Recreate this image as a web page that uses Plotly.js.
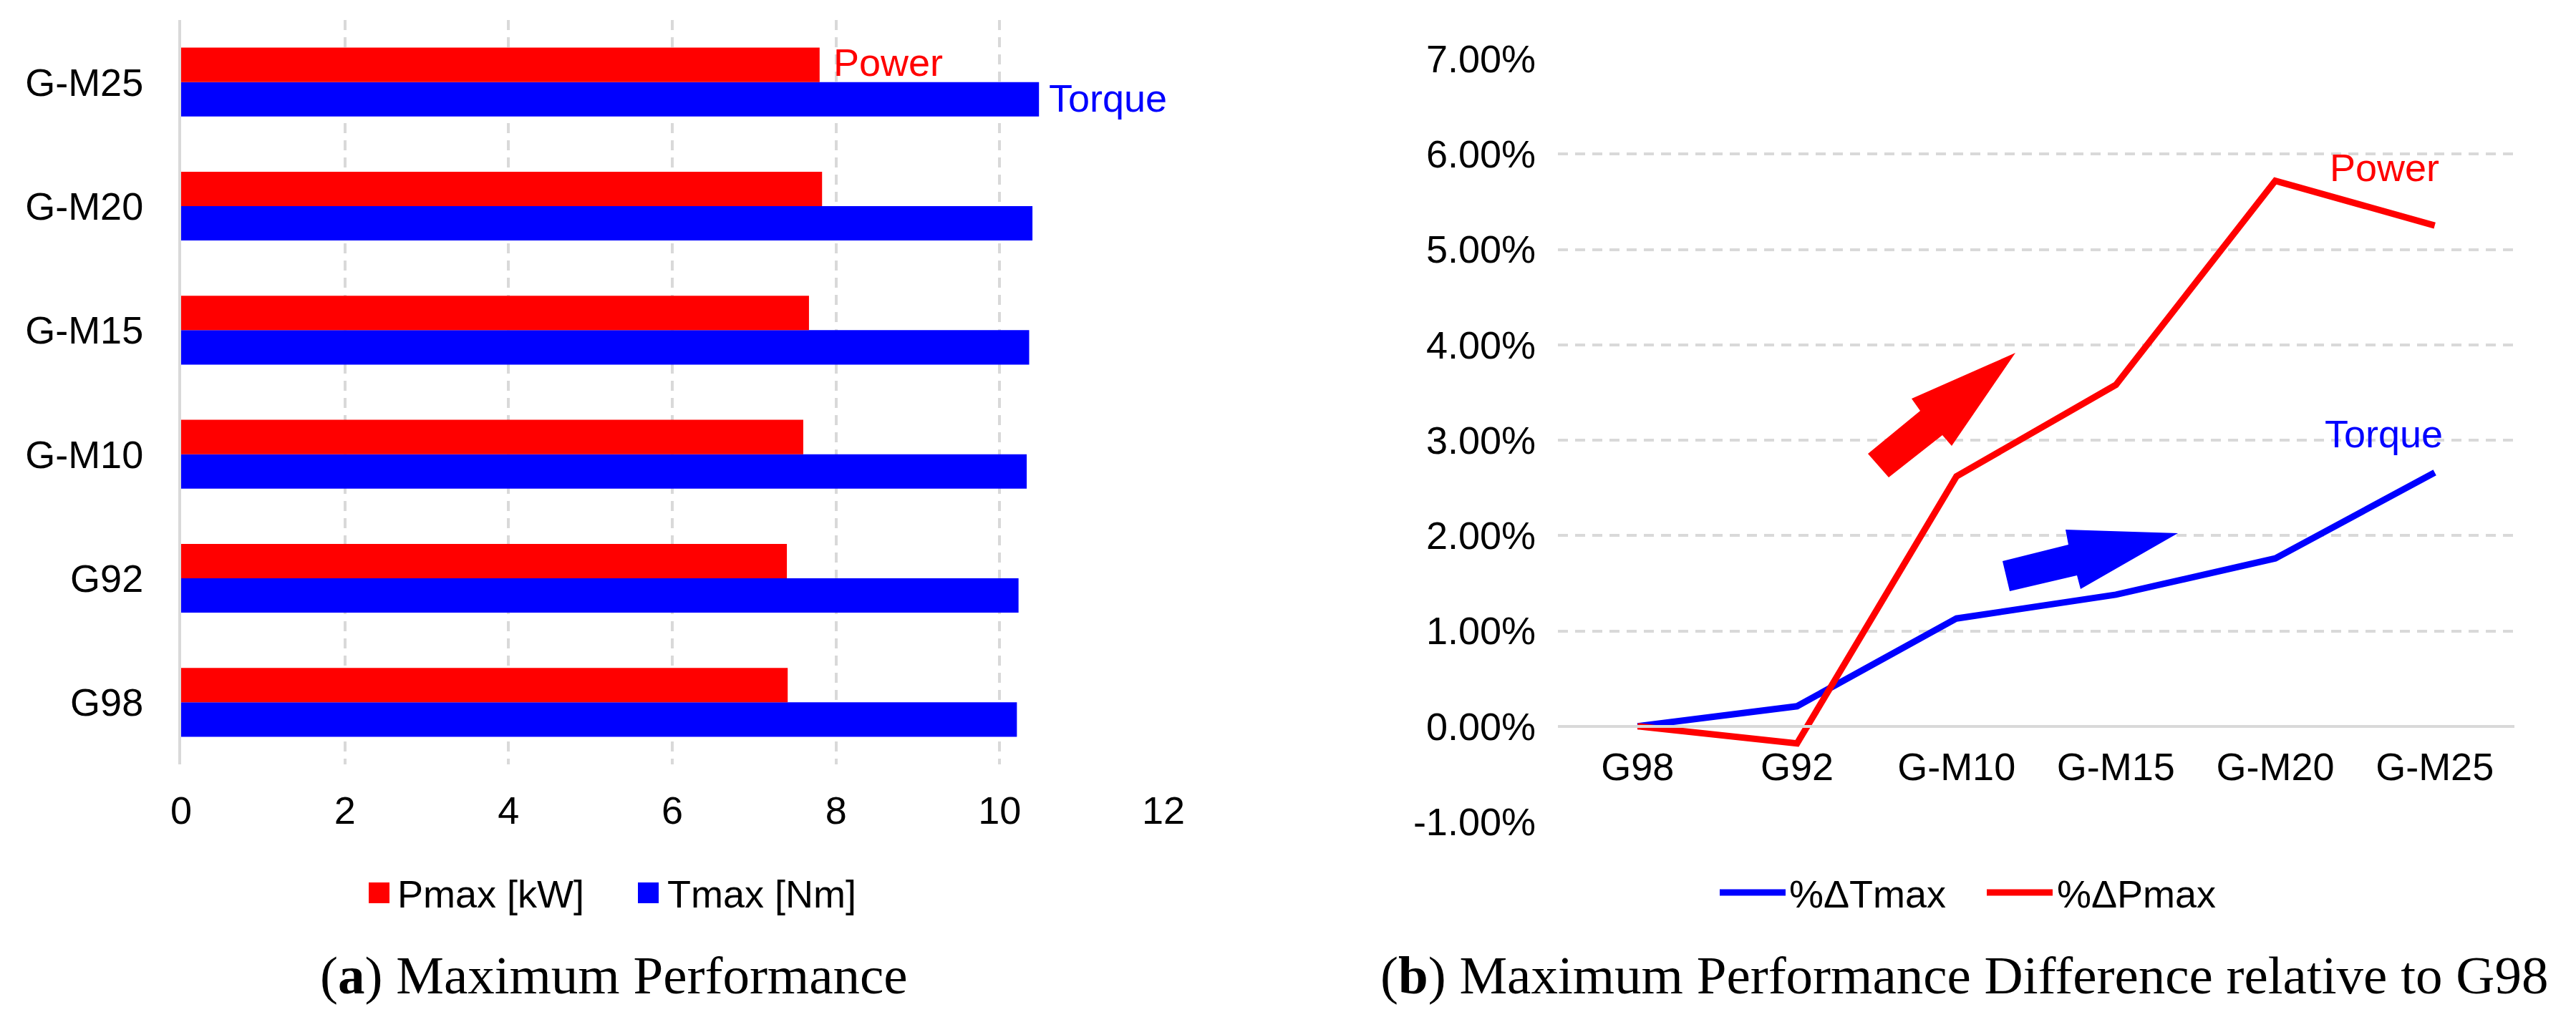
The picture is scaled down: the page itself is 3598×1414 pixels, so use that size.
<!DOCTYPE html>
<html>
<head>
<meta charset="utf-8">
<script src="https://cdn.plot.ly/plotly-3.0.1.min.js"></script>
<style>html,body{margin:0;padding:0;background:#fff;}</style>
</head>
<body>
<div id="myDiv"></div>
<script>
var W = 3598, H = 1414;

// data
var categories = ['G98', 'G92', 'G-M10', 'G-M15', 'G-M20', 'G-M25'];
var pmax = [7.41, 7.40, 7.60, 7.67, 7.83, 7.80];        // kW
var tmax = [10.21, 10.23, 10.33, 10.36, 10.40, 10.48];  // Nm
var dTmax = [0, 0.0021, 0.0113, 0.0138, 0.0176, 0.0266];
var dPmax = [0, -0.0018, 0.0262, 0.0358, 0.0572, 0.0525];

var xTicksA = [0, 2, 4, 6, 8, 10, 12];
var yTicksB = [-0.01, 0, 0.01, 0.02, 0.03, 0.04, 0.05, 0.06, 0.07];
var yTickTextB = yTicksB.map(function (v) {
  return (v < 0 ? '-' : '') + Math.abs(v * 100).toFixed(2) + '%';
});

var sans = 'Arial, "Liberation Sans", sans-serif';
var serif = '"Times New Roman", "Liberation Serif", serif';
var grid = '#d9d9d9';

// pixel -> paper helpers
function px(x) { return x / W; }
function py(y) { return 1 - y / H; }
function poly(pts) {
  return 'M' + pts.map(function (p) { return px(p[0]) + ',' + py(p[1]); }).join('L') + 'Z';
}

var data = [
  {
    type: 'bar', orientation: 'h', name: 'Tmax [Nm]',
    y: categories, x: tmax,
    marker: { color: '#0000ff' },
    xaxis: 'x', yaxis: 'y', hoverinfo: 'x+name'
  },
  {
    type: 'bar', orientation: 'h', name: 'Pmax [kW]',
    y: categories, x: pmax,
    marker: { color: '#ff0000' },
    xaxis: 'x', yaxis: 'y', hoverinfo: 'x+name'
  },
  {
    type: 'scatter', mode: 'lines', name: '%\u0394Tmax',
    x: categories, y: dTmax,
    line: { color: '#0000ff', width: 9 },
    xaxis: 'x2', yaxis: 'y2'
  },
  {
    type: 'scatter', mode: 'lines', name: '%\u0394Pmax',
    x: categories, y: dPmax,
    line: { color: '#ff0000', width: 9 },
    xaxis: 'x2', yaxis: 'y2'
  }
];

var redArrow = [[2609, 634], [2638, 667], [2713, 608], [2726, 623], [2815, 493], [2670, 557], [2682, 574]];
var blueArrow = [[2797, 784], [2807, 826], [2901, 804], [2906, 823], [3042, 745], [2885, 740], [2889, 761]];

var layout = {
  width: W, height: H,
  margin: { t: 0, r: 0, l: 0, b: 0 },
  paper_bgcolor: '#fff', plot_bgcolor: '#fff',
  font: { family: sans, size: 54, color: '#000' },
  showlegend: false,
  barmode: 'group',
  bargap: 0.445,
  bargroupgap: 0,
  xaxis: {
    domain: [px(253), px(1625)], anchor: 'y',
    range: [0, 12], tickvals: xTicksA,
    showgrid: true, gridcolor: grid, gridwidth: 4, griddash: '14px,10px',
    zeroline: false, showline: false, ticks: '',
    ticklabelstandoff: 28, fixedrange: true
  },
  yaxis: {
    domain: [py(1068), py(28)], anchor: 'x',
    type: 'category', categoryarray: categories,
    showgrid: false, zeroline: false,
    showline: true, linecolor: grid, linewidth: 4,
    ticks: '', ticklabelstandoff: 38, fixedrange: true
  },
  xaxis2: {
    domain: [px(2176), px(3512)], anchor: 'free', position: py(1014.75),
    type: 'category', categoryarray: categories, range: [-0.5, 5.5],
    showgrid: false, zeroline: false,
    showline: true, linecolor: grid, linewidth: 4,
    ticks: '', ticklabelstandoff: 8, fixedrange: true
  },
  yaxis2: {
    domain: [py(1148), py(82)], anchor: 'x2',
    range: [-0.01, 0.07], tickvals: yTicksB, ticktext: yTickTextB,
    showgrid: true, gridcolor: grid, gridwidth: 4, griddash: '14px,10px',
    zeroline: false, showline: false, ticks: '',
    ticklabelstandoff: 30, fixedrange: true
  },
  shapes: [
    { type: 'path', xref: 'paper', yref: 'paper', path: poly(redArrow), fillcolor: '#ff0000', line: { width: 0 } },
    { type: 'path', xref: 'paper', yref: 'paper', path: poly(blueArrow), fillcolor: '#0000ff', line: { width: 0 } },
    // legend keys, chart (a)
    { type: 'rect', xref: 'paper', yref: 'paper', x0: px(515), x1: px(544), y0: py(1262), y1: py(1233), fillcolor: '#ff0000', line: { width: 0 } },
    { type: 'rect', xref: 'paper', yref: 'paper', x0: px(891), x1: px(920), y0: py(1262), y1: py(1233), fillcolor: '#0000ff', line: { width: 0 } },
    // legend keys, chart (b)
    { type: 'line', xref: 'paper', yref: 'paper', x0: px(2402), x1: px(2494), y0: py(1247), y1: py(1247), line: { color: '#0000ff', width: 9 } },
    { type: 'line', xref: 'paper', yref: 'paper', x0: px(2775), x1: px(2867), y0: py(1247), y1: py(1247), line: { color: '#ff0000', width: 9 } }
  ],
  annotations: [
    { text: 'Power', xref: 'paper', yref: 'paper', x: px(1162), y: py(87), xanchor: 'left', yanchor: 'middle', showarrow: false, font: { color: '#ff0000', size: 54 } },
    { text: 'Torque', xref: 'paper', yref: 'paper', x: px(1463), y: py(137), xanchor: 'left', yanchor: 'middle', showarrow: false, font: { color: '#0000ff', size: 54 } },
    { text: 'Power', xref: 'paper', yref: 'paper', x: px(3330), y: py(234), xanchor: 'center', yanchor: 'middle', showarrow: false, font: { color: '#ff0000', size: 54 } },
    { text: 'Torque', xref: 'paper', yref: 'paper', x: px(3329), y: py(606), xanchor: 'center', yanchor: 'middle', showarrow: false, font: { color: '#0000ff', size: 54 } },
    { text: 'Pmax [kW]', xref: 'paper', yref: 'paper', x: px(553), y: py(1249), xanchor: 'left', yanchor: 'middle', showarrow: false, font: { size: 54 } },
    { text: 'Tmax [Nm]', xref: 'paper', yref: 'paper', x: px(930), y: py(1249), xanchor: 'left', yanchor: 'middle', showarrow: false, font: { size: 54 } },
    { text: '%\u0394Tmax', xref: 'paper', yref: 'paper', x: px(2497), y: py(1249), xanchor: 'left', yanchor: 'middle', showarrow: false, font: { size: 54 } },
    { text: '%\u0394Pmax', xref: 'paper', yref: 'paper', x: px(2871), y: py(1249), xanchor: 'left', yanchor: 'middle', showarrow: false, font: { size: 54 } },
    { text: '(<b>a</b>) Maximum Performance', xref: 'paper', yref: 'paper', x: px(857), y: py(1362), xanchor: 'center', yanchor: 'middle', showarrow: false, font: { family: serif, size: 75 } },
    { text: '(<b>b</b>) Maximum Performance Difference relative to G98', xref: 'paper', yref: 'paper', x: px(2743), y: py(1362), xanchor: 'center', yanchor: 'middle', showarrow: false, font: { family: serif, size: 75 } }
  ]
};

Plotly.newPlot('myDiv', data, layout, { displayModeBar: false, staticPlot: true });
</script>
</body>
</html>
